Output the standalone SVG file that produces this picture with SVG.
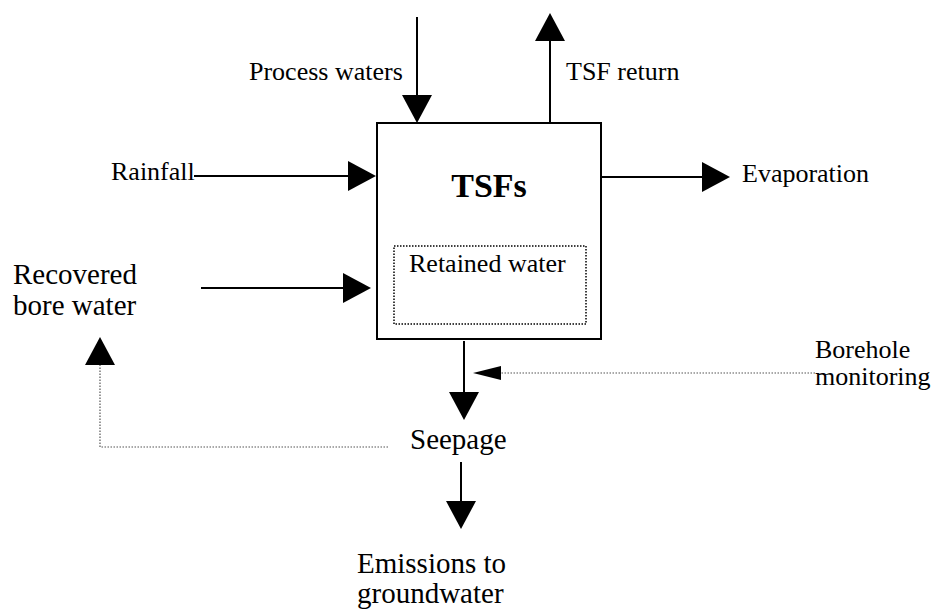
<svg xmlns="http://www.w3.org/2000/svg" width="936" height="610" viewBox="0 0 936 610">
<style>
text{font-family:"Liberation Serif","Times New Roman",serif;fill:#000}
.t26{font-size:26px}
.t29{font-size:29px}
.solid{stroke:#000;stroke-width:2;fill:none}
.dot{stroke:#555;stroke-width:1.2;stroke-dasharray:1.5 1.5;fill:none}
</style>
<defs>
<marker id="ah" markerUnits="userSpaceOnUse" viewBox="0 0 28 30" markerWidth="28" markerHeight="30" refX="0" refY="15" orient="auto">
<path d="M0,0 L28,15 L0,30 Z" fill="#000"/>
</marker>
<marker id="ahs" markerUnits="userSpaceOnUse" viewBox="0 0 28 14" markerWidth="28" markerHeight="14" refX="0" refY="7" orient="auto">
<path d="M0,0 L28,7 L0,14 Z" fill="#000"/>
</marker>
</defs>
<rect width="936" height="610" fill="#fff"/>

<g id="tsfs">
<rect x="377" y="123" width="224" height="216" fill="#fff" stroke="#000" stroke-width="2"/>
<text x="489" y="197" font-size="34" font-weight="bold" text-anchor="middle">TSFs</text>
</g>
<g id="retained-water">
<rect x="394" y="246" width="192" height="78" fill="none" stroke="#000" stroke-width="1.5" stroke-dasharray="1.5 1.5"/>
<text class="t26" x="409" y="272">Retained water</text>
</g>
<g id="process-waters"><text class="t26" x="249" y="80">Process waters</text></g>
<g id="tsf-return"><text class="t26" x="566" y="80">TSF return</text></g>
<g id="rainfall"><text class="t26" x="111" y="180">Rainfall</text></g>
<g id="evaporation"><text class="t26" x="742" y="182">Evaporation</text></g>
<g id="recovered-bore-water"><text class="t29" x="13" y="284">Recovered</text><text class="t29" x="13" y="315">bore water</text></g>
<g id="borehole-monitoring"><text class="t26" x="815" y="358">Borehole</text><text class="t26" x="815" y="385">monitoring</text></g>
<g id="seepage"><text class="t29" x="410" y="449">Seepage</text></g>
<g id="emissions"><text class="t29" x="357" y="573">Emissions to</text><text class="t29" x="357" y="603">groundwater</text></g>

<g id="connectors">
<line class="solid" x1="417" y1="17" x2="417" y2="95" marker-end="url(#ah)"/>
<line class="solid" x1="550" y1="123" x2="550" y2="41" marker-end="url(#ah)"/>
<line class="solid" x1="194" y1="176" x2="348" y2="176" marker-end="url(#ah)"/>
<line class="solid" x1="601" y1="177" x2="702" y2="177" marker-end="url(#ah)"/>
<line class="solid" x1="201" y1="288" x2="343" y2="288" marker-end="url(#ah)"/>
<line class="solid" x1="464" y1="341" x2="464" y2="392" marker-end="url(#ah)"/>
<line class="dot" x1="815" y1="373" x2="501" y2="373" marker-end="url(#ahs)"/>
<polyline class="dot" points="388,447 100,447 100,365" marker-end="url(#ah)"/>
<line class="solid" x1="461" y1="462" x2="461" y2="501" marker-end="url(#ah)"/>
</g>
</svg>
